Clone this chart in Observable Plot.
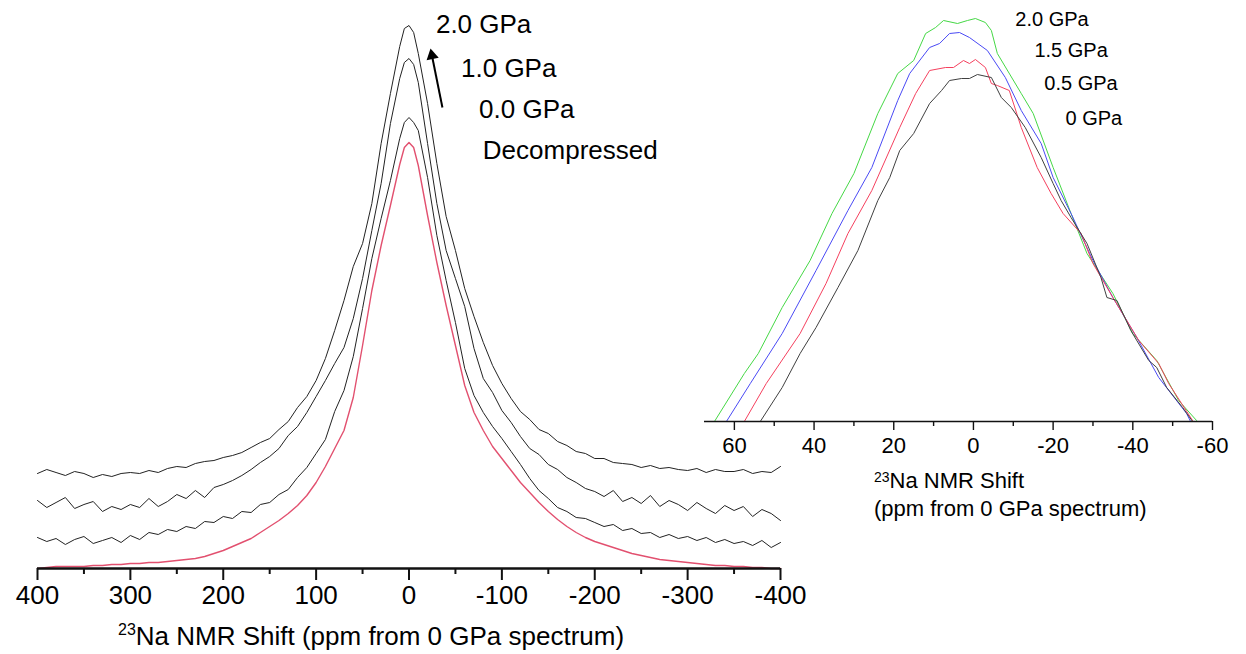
<!DOCTYPE html>
<html><head><meta charset="utf-8">
<script src="https://cdn.jsdelivr.net/npm/d3@7"></script>
<script src="https://cdn.jsdelivr.net/npm/@observablehq/plot@0.6"></script>
<style>
html,body{margin:0;padding:0;background:#fff;}
#wrap{position:relative;width:1246px;height:654px;font-family:"Liberation Sans",Arial,sans-serif;color:#000;overflow:hidden;}
#left,#right{position:absolute;top:0;}
#left{left:0;}
#right{left:680px;}
.title{position:absolute;white-space:nowrap;color:#000;}
</style></head><body>
<div id="wrap">
<div id="left"></div>
<div id="right"></div>
<div class="title" style="left:118px;top:623px;font-size:26px;line-height:26px"><span style="font-size:16px;position:relative;top:-10px">23</span>Na NMR Shift (ppm from 0 GPa spectrum)</div>
<div class="title" style="left:874px;top:468px;font-size:22px;line-height:25px"><span style="font-size:14px;position:relative;top:-6px">23</span>Na NMR Shift<br>(ppm from 0 GPa spectrum)</div>
</div>
<script>
// ---------- Left panel: stacked 23Na spectra ----------
const ppmLeft = [400,390,380,370,360,350,340,330,320,310,300,290,280,270,260,250,240,230,220,210,200,190,180,170,160,150,140,130,120,110,100,90,80,70,60,50,40,30,20,10,5,0,-5,-10,-20,-30,-40,-50,-60,-70,-80,-90,-100,-110,-120,-130,-140,-150,-160,-170,-180,-190,-200,-210,-220,-230,-240,-250,-260,-270,-280,-290,-300,-310,-320,-330,-340,-350,-360,-370,-380,-390,-400];
const gpa20 = [95,99,96,93,97,95,91,94,92,95, 96,95,98,96,100,102,101,105,107,108, 111,113,116,121,126,130,139,147,161,172, 188,210,238,268,302,325,365,425,475,522, 540,543,536, 515,465,405,352,318,280,252,226,203,185, 170,157,149,139,135,127,123,117,115,110, 110,106,105,104,101,103,100,101,99,98, 100,96,99,97,97,99,95,97,96,102];
const gpa10 = [68,61,66,71,60,64,67,57,62,59, 64,61,70,62,67,74,70,78,71,81, 84,88,93,99,106,112,120,133,142,156, 172,188,205,221,250,290,338,385,445,490, 506,510,504, 486,425,365,318,290,262,220,190,176,158, 146,132,120,114,104,99,91,86,80,77, 72,78,67,71,65,73,62,68,64,58, 66,60,55,63,58,62,52,59,55,48];
const gpa00 = [31,27,30,24,29,32,25,28,31,26, 33,29,36,34,39,37,42,40,47,46, 52,50,57,56,64,66,74,79,91,101, 115,129,157,178,212,260,310,350,388,430, 446,451,446, 438,391,333,288,246,200,173,156,142,130, 117,104,90,78,70,61,57,51,50,46, 42,44,38,40,35,36,31,34,30,32, 28,31,26,29,25,27,23,28,21,26];
const decompressed = [0,1,2,2,2,2,3,3,4,4, 5,5,6,6,7,8,9,10,12,15, 18,22,26,30,36,42,48,55,63,73, 86,102,120,138,171,223,278,323,363,404, 421,426,421, 403,353,306,263,223,183,156,138,122,110, 98,86,76,66,57,49,42,36,31,27, 24,21,18,15,13,11,9,8,7,6, 5,4,3,3,2,2,1,1,0,0];
const leftMajorTicks = [400,300,200,100,0,-100,-200,-300,-400];
const leftMinorTicks = [350,250,150,50,-50,-150,-250,-350];
const leftLabels = ["2.0 GPa","1.0 GPa","0.0 GPa","Decompressed"];
const leftLabelX = [-29,-56,-75.5,-79.5];
const leftLabelY = [536,492,451,410];
const arrowTail = [-36,461];
const arrowHead = [-24.7,513];

// ---------- Right panel: inset, overlaid ----------
const insetNames = ["2.0 GPa","1.5 GPa","0.5 GPa","0 GPa"];
const insetColors = ["#45d845","#4a4af5","#f5405e","#404040"];
const g20x = [65,57.5,54,48,41,35.5,30,24,19,15,12,9.5,7.5,4,1.5,-0.5,-3,-4.5,-6,-12,-15,-20,-24.5,-28.5,-35,-40,-46,-51.5,-56];
const g20v = [0,48,68,114,161,208,248,308,348,361,388,394,401,398,401,403,399,391,368,328,308,254,208,168,128,88,61,21,1];
const g15x = [62,56,48,39.5,31.5,25.5,19,16,11,8.5,6,3.5,1,-3.5,-8,-12,-17,-20,-24.5,-30,-35,-41,-46.5,-53.5,-54.5];
const g15v = [0,38,88,151,211,254,321,348,374,378,388,389,384,371,344,311,278,244,208,161,124,84,44,8,0];
const g05x = [57.5,52,43.5,37,31.5,25.5,18.5,14.5,11,7,5,2.5,1,-0.5,-3,-4.5,-6,-9,-12,-16,-19.5,-22.5,-27,-30,-35,-41.5,-46.5,-49,-55];
const g05v = [0,38,88,138,188,231,294,328,351,354,354,361,358,362,354,338,336,331,294,254,228,208,188,158,124,81,58,38,1];
const g00x = [53.5,48,43.5,39.5,34,29,24,21,18.5,15,11,8,6,3,1,-1,-4.5,-7,-9.5,-13,-17,-20,-22,-24.5,-28.5,-32,-33.5,-36,-39.5,-44,-46,-48.5,-52.5,-55];
const g00v = [0,34,68,94,134,171,221,244,271,288,318,331,341,343,343,347,344,324,314,294,264,238,221,204,178,144,124,121,91,61,54,34,14,0];
const rightMajorTicks = [60,40,20,0,-20,-40,-60];
const rightMinorTicks = [50,30,10,-10,-30,-50];
const rightLabelX = [-10.5,-15.3,-17.8,-23.1];
const rightLabelY = [396,365,332,297];

const fontFam = '"Liberation Sans", Arial, Helvetica, sans-serif';

// build tables
const leftSeries = [["2.0 GPa", gpa20], ["1.0 GPa", gpa10], ["0.0 GPa", gpa00]];
const blackRows = leftSeries.flatMap(([name, vals]) => vals.map((v, i) => ({name, x: ppmLeft[i], y: v})));
const pinkRows = decompressed.map((v, i) => ({x: ppmLeft[i], y: v}));
const leftLabelRows = leftLabels.map((t, i) => ({t, x: leftLabelX[i], y: leftLabelY[i]}));
const arrowRow = [{x1: arrowTail[0], y1: arrowTail[1], x2: arrowHead[0], y2: arrowHead[1]}];

const leftPlot = Plot.plot({
  width: 820, height: 654,
  marginLeft: 37, marginRight: 40, marginTop: 25, marginBottom: 86,
  x: {domain: [400, -400]},
  y: {domain: [0, 543], axis: null},
  style: {background: "transparent", fontFamily: fontFam, color: "#000", overflow: "visible"},
  marks: [
    Plot.line(blackRows, {x: "x", y: "y", z: "name", stroke: "#222", strokeWidth: 1}),
    Plot.line(pinkRows, {x: "x", y: "y", stroke: "#e2506f", strokeWidth: 1.4}),
    Plot.ruleY([0], {stroke: "#111", strokeWidth: 2.6}),
    Plot.axisX({ticks: leftMinorTicks, tickSize: 6, strokeWidth: 2, stroke: "#111", tickFormat: () => "", label: null}),
    Plot.axisX({ticks: leftMajorTicks, tickSize: 12, strokeWidth: 2, stroke: "#111", tickPadding: 5, fontSize: 26, tickFormat: d => String(d), label: null}),
    Plot.text(leftLabelRows, {x: "x", y: "y", text: "t", textAnchor: "start", lineAnchor: "bottom", fontSize: 26, fill: "#000"}),
    Plot.link(arrowRow, {x1: "x1", y1: "y1", x2: "x2", y2: "y2", stroke: "#000", strokeWidth: 2}),
    Plot.dot(arrowRow, {x: "x2", y: "y2", symbol: "triangle", r: 4.6, fill: "#000", stroke: "none", rotate: -11.5})
  ]
});
document.getElementById("left").appendChild(leftPlot);

const insetSeries = [[g20x, g20v], [g15x, g15v], [g05x, g05v], [g00x, g00v]];
const insetRows = insetSeries.flatMap(([xs, vs], k) => xs.map((x, i) => ({name: insetNames[k], x, y: vs[i]})));
const rightLabelRows = insetNames.map((t, i) => ({t, x: rightLabelX[i], y: rightLabelY[i]}));

const rightPlot = Plot.plot({
  width: 566, height: 470,
  marginLeft: 24, marginRight: 34, marginTop: 18, marginBottom: 49,
  x: {domain: [67.5, -60]},
  y: {domain: [0, 403], axis: null},
  color: {domain: insetNames, range: insetColors},
  style: {background: "transparent", fontFamily: fontFam, color: "#000", overflow: "visible"},
  marks: [
    Plot.line(insetRows, {x: "x", y: "y", z: "name", stroke: "name", strokeWidth: 1}),
    Plot.ruleY([0], {stroke: "#111", strokeWidth: 1.6}),
    Plot.axisX({ticks: rightMinorTicks, tickSize: 5, strokeWidth: 1.4, stroke: "#111", tickFormat: () => "", label: null}),
    Plot.axisX({ticks: rightMajorTicks, tickSize: 9, strokeWidth: 1.4, stroke: "#111", tickPadding: 7, fontSize: 22, tickFormat: d => String(d), label: null}),
    Plot.text(rightLabelRows, {x: "x", y: "y", text: "t", textAnchor: "start", lineAnchor: "bottom", fontSize: 20, fill: "#000"})
  ]
});
document.getElementById("right").appendChild(rightPlot);
</script>
</body></html>
